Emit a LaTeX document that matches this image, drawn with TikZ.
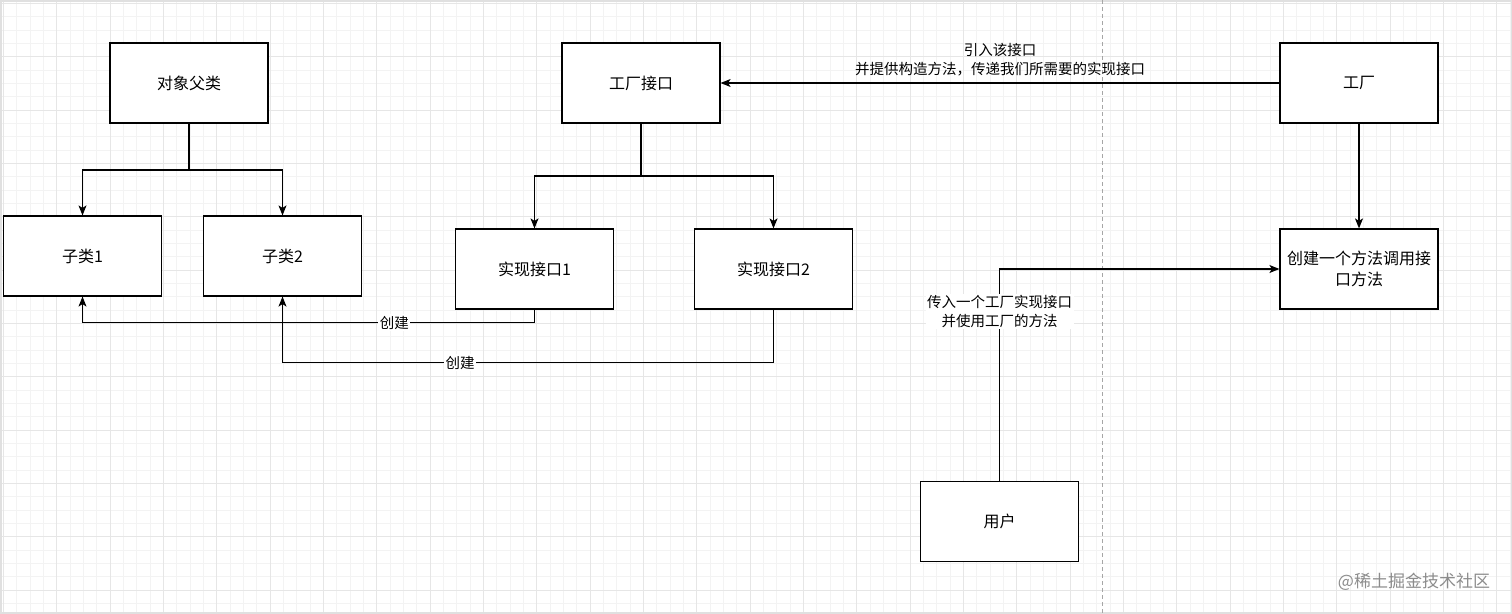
\documentclass[tikz,border=0pt]{standalone}
\usepackage{fontspec}
\newfontfamily\cjk{Noto Sans CJK SC}
\usepackage{tikz}
\usetikzlibrary{arrows.meta,calc}
\usepackage{xcolor}
\definecolor{gridmin}{HTML}{F3F3F3}
\definecolor{gridmaj}{HTML}{E6E6E6}

\begin{document}
\begin{tikzpicture}[x=1pt, y=-1pt,
  box/.style={draw, line width=1.2pt, fill=white, minimum width=158pt, minimum height=80pt, align=center, font=\cjk\fontsize{16}{21}\selectfont},
  lbl/.style={fill=white, inner sep=1.5pt, align=center, font=\cjk\fontsize{14.5}{19}\selectfont},
  arr/.style={line width=1.2pt, -{Stealth[length=10pt,width=8pt,inset=2.5pt]}}
]
  \useasboundingbox (0,0) rectangle (1512,613);
  \fill[white] (0,0) rectangle (1512,613);
  % grid
  \foreach \i in {0,...,113} \draw[gridmin, line width=0.8pt] ({3.3+13.333*\i},0) -- ({3.3+13.333*\i},613);
  \foreach \i in {0,...,45} \draw[gridmin, line width=0.8pt] (0,{3.3+13.333*\i}) -- (1512,{3.3+13.333*\i});
  \foreach \i in {0,...,28} \draw[gridmaj, line width=0.9pt] ({3.3+53.333*\i},0) -- ({3.3+53.333*\i},613);
  \foreach \i in {0,...,11} \draw[gridmaj, line width=0.9pt] (0,{3.3+53.333*\i}) -- (1512,{3.3+53.333*\i});
  \draw[black!12, line width=3pt] (0,0) rectangle (1512,613);
  \draw[black!35, line width=1pt, dash pattern=on 4pt off 3pt] (1102,0) -- (1102,613);

  \node[box] (parent) at (189,83) {对象父类};
  \node[box] (sub1) at (82.5,256) {子类1};
  \node[box] (sub2) at (282.5,256) {子类2};
  \node[box] (fi) at (641,83) {工厂接口};
  \node[box] (impl1) at (534.5,269) {实现接口1};
  \node[box] (impl2) at (773.5,269) {实现接口2};
  \node[box] (fac) at (1359,83) {工厂};
  \node[box, text width=148pt] (mk) at (1359,269) {创建一个方法调用接\\口方法};
  \node[box] (user) at (999.5,521.5) {用户};

  \coordinate (pj) at (189,170);
  \draw[arr] (parent.south) -- (pj) -| (sub1.north);
  \draw[arr] (pj) -| (sub2.north);

  \coordinate (fj) at (641,176);
  \draw[arr] (fi.south) -- (fj) -| (impl1.north);
  \draw[arr] (fj) -| (impl2.north);

  \draw[arr] (impl1.south) -- ++(0,13) -| node[lbl, pos=0.155] (mk1) {创建} (sub1.south);
  \draw[arr] (impl2.south) -- ++(0,53) -| node[lbl, pos=0.319] (mk2) {创建} (sub2.south);

  \draw[arr] (fac.west) -- node[lbl, fill=none, above, inner sep=6pt] (use) {引入该接口\\并提供构造方法，传递我们所需要的实现接口} (fi.east);
  \draw[arr] (fac.south) -- (mk.north);
  \draw[arr] (user.north) |- node[lbl, pos=0.40] (pass) {传入一个工厂实现接口\\并使用工厂的方法} (mk.west);

  \node[font=\cjk\fontsize{17}{20}\selectfont, text=black!45] (wm) at (1414,582) {@稀土掘金技术社区};
\end{tikzpicture}
\end{document}
